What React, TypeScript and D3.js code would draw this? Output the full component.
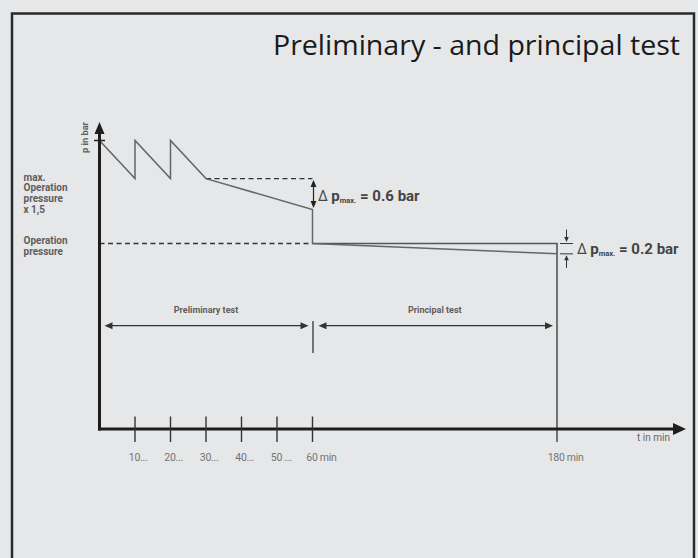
import React from 'react';
import * as d3 from 'd3';

// ---- data ----
const timeMin = [0, 10, 10, 20, 20, 30, 60, 60, 180];
const pressureBar = [5.6, 4.86, 5.6, 4.86, 5.6, 4.86, 4.26, 3.6, 3.4];
const xTicks = [10, 20, 30, 40, 50, 60, 180];
const xTickNums = ['10', '20', '30', '40', '50', '60', '180'];
const xTickSuffix = ['...', '...', '...', '...', ' ...', ' min', ' min'];
const xDomain = [0, 60, 180];
const peakPressure = 5.6;
const holdPressure = 4.86;
const pressureAt60 = 4.26;
const operationPressure = 3.6;
const endPressure = 3.4;
const holdStart = 30;
const prelimEnd = 60;
const principalEnd = 180;
const title = 'Preliminary - and principal test';
const maxLabel = ['max.', 'Operation', 'pressure', 'x 1,5'];
const opLabel = ['Operation', 'pressure'];
const delta1 = '0.6 bar';
const delta2 = '0.2 bar';

const W = 698;
const H = 558;
const BG = '#e6e7e9';
const DARK = '#1e1e1e';
const GREY = '#666';
const TXT = '#5e5e5e';
const FONT = 'Roboto, "DejaVu Sans", sans-serif';

const x = d3.scaleLinear().domain(xDomain).range([99.5, 312.5, 557]);
const y = d3.scaleLinear().domain([0, peakPressure]).range([429, 140.5]);

const line = d3
  .line<number>()
  .x((_, i) => x(timeMin[i]))
  .y((d) => y(d));

function tri(tx: number, ty: number, dir: 'up' | 'down' | 'left' | 'right', len: number, half: number) {
  let pts: number[][] = [];
  if (dir === 'up') pts = [[tx, ty], [tx - half, ty + len], [tx + half, ty + len]];
  if (dir === 'down') pts = [[tx, ty], [tx - half, ty - len], [tx + half, ty - len]];
  if (dir === 'left') pts = [[tx, ty], [tx + len, ty - half], [tx + len, ty + half]];
  if (dir === 'right') pts = [[tx, ty], [tx - len, ty - half], [tx - len, ty + half]];
  return pts.map((p) => p.join(',')).join(' ');
}

function DeltaLabel({ lx, ly, value }: { lx: number; ly: number; value: string }) {
  return (
    <text x={lx} y={ly} fontFamily={FONT} fill="#444" fontWeight={700}>
      <tspan fontSize={14} fontWeight={400}>Δ </tspan>
      <tspan fontSize={15}>p</tspan>
      <tspan fontSize={7.5} dy={2}>max.</tspan>
      <tspan fontSize={15} dy={-2}>{' = ' + value}</tspan>
    </text>
  );
}

export default function App() {
  const x0 = x(0);
  const yAxis = y(0);
  const yTop = y.range()[1] - 18.5;
  const xRight = 686;
  const spanY = 325.7;
  const x60 = x(prelimEnd);
  const x180 = x(principalEnd);

  return (
    <div style={{ position: 'fixed', left: 0, top: 0, width: W, height: H, background: BG }}>
      <svg width={W} height={H} style={{ display: 'block' }}>
        <rect x={0} y={0} width={W} height={H} fill={BG} />
        <rect x={12} y={13.5} width={682} height={620} fill="none" stroke="#2a2a2a" strokeWidth={2.5} />

        <text x={680} y={55} textAnchor="end" fontFamily='"Open Sans", sans-serif' fontWeight={400} fontSize={28} fill="#1a1a1a" textLength={407} lengthAdjust="spacingAndGlyphs">
          {title}
        </text>

        {/* left labels */}
        <g fontFamily={FONT} fontSize={10} fontWeight={700} fill={TXT}>
          {maxLabel.map((t, i) => (
            <text key={t} x={23.5} y={180.5 + i * 10.7}>{t}</text>
          ))}
          {opLabel.map((t, i) => (
            <text key={t + i} x={23.5} y={243.5 + i * 11.5}>{t}</text>
          ))}
        </g>

        {/* dashed reference lines */}
        <g stroke="#333" strokeWidth={1.4} strokeDasharray="5,3.5" fill="none">
          <line x1={x(holdStart)} x2={x60} y1={y(holdPressure)} y2={y(holdPressure)} />
          <line x1={x0} x2={x60} y1={y(operationPressure)} y2={y(operationPressure)} />
        </g>

        {/* reference outline at operation pressure for principal test */}
        <path
          d={`M${x60},${y(operationPressure)}H${x180}V${yAxis + 13}`}
          fill="none"
          stroke="#555"
          strokeWidth={1.6}
        />

        {/* pressure curve */}
        <path d={line(pressureBar) || ''} fill="none" stroke={GREY} strokeWidth={1.5} strokeLinejoin="miter" />

        {/* y axis */}
        <line x1={x0} x2={x0} y1={yTop + 10} y2={yAxis + 1.5} stroke={DARK} strokeWidth={3} />
        <polygon points={tri(x0, yTop, 'up', 12, 5)} fill={DARK} />
        <line x1={x0 - 5.5} x2={x0 + 5.5} y1={y(peakPressure)} y2={y(peakPressure)} stroke={DARK} strokeWidth={1.5} />
        <text
          transform={`translate(${x0 - 11.5},${y(peakPressure) + 12.5}) rotate(-90)`}
          fontFamily={FONT}
          fontSize={9}
          fontWeight={700}
          fill={TXT}
          textLength={31}
          lengthAdjust="spacingAndGlyphs"
        >
          p in bar
        </text>

        {/* x axis */}
        <line x1={x0 - 1.5} x2={xRight - 10} y1={yAxis} y2={yAxis} stroke={DARK} strokeWidth={3} />
        <polygon points={tri(xRight, yAxis, 'right', 13, 6)} fill={DARK} />
        <text x={670} y={441} textAnchor="end" fontFamily={FONT} fontSize={10} fill="#666">t in min</text>
        {xTicks.map((t, i) => (
          <g key={t}>
            {t !== principalEnd && (
              <line x1={x(t)} x2={x(t)} y1={yAxis - 12.5} y2={yAxis + 13} stroke="#333" strokeWidth={1.4} />
            )}
            <text
              x={x(t) - xTickNums[i].length * 3.1}
              y={460.5}
              fontFamily={FONT}
              fontSize={10.5}
              fill="#747474"
              letterSpacing={-0.3}
            >
              {xTickNums[i] + xTickSuffix[i]}
            </text>
          </g>
        ))}

        {/* Δp 0.6 */}
        <line x1={x60 + 1} x2={x60 + 1} y1={y(holdPressure) + 4} y2={y(pressureAt60) - 4} stroke="#222" strokeWidth={1.2} />
        <polygon points={tri(x60 + 1, y(holdPressure) + 1.5, 'up', 7, 3)} fill="#222" />
        <polygon points={tri(x60 + 1, y(pressureAt60) - 1.5, 'down', 7, 3)} fill="#222" />
        <DeltaLabel lx={318} ly={201} value={delta1} />

        {/* Δp 0.2 */}
        <g stroke="#333" strokeWidth={1}>
          <line x1={x180 + 3} x2={x180 + 16} y1={y(operationPressure)} y2={y(operationPressure)} />
          <line x1={x180 + 3} x2={x180 + 16} y1={y(endPressure)} y2={y(endPressure)} />
          <line x1={x180 + 9.5} x2={x180 + 9.5} y1={y(operationPressure) - 14} y2={y(operationPressure) - 4} />
          <line x1={x180 + 9.5} x2={x180 + 9.5} y1={y(endPressure) + 4} y2={y(endPressure) + 14} />
        </g>
        <polygon points={tri(x180 + 9.5, y(operationPressure) - 1.5, 'down', 5, 2.3)} fill="#333" />
        <polygon points={tri(x180 + 9.5, y(endPressure) + 1.5, 'up', 5, 2.3)} fill="#333" />
        <DeltaLabel lx={577} ly={253.5} value={delta2} />

        {/* test spans */}
        <g stroke="#333" strokeWidth={1.3}>
          <line x1={x0 + 8} x2={x60 - 8} y1={spanY} y2={spanY} />
          <line x1={x60 + 12} x2={x180 - 10} y1={spanY} y2={spanY} />
          <line x1={x60 + 0.5} x2={x60 + 0.5} y1={321} y2={353} />
        </g>
        <polygon points={tri(x0 + 5, spanY, 'left', 8, 3.5)} fill="#333" />
        <polygon points={tri(x60 - 4, spanY, 'right', 8, 3.5)} fill="#333" />
        <polygon points={tri(x60 + 6, spanY, 'left', 8, 3.5)} fill="#333" />
        <polygon points={tri(x180 - 4, spanY, 'right', 8, 3.5)} fill="#333" />
        <g fontFamily={FONT} fontSize={9} fontWeight={700} fill={TXT} textAnchor="middle">
          <text x={(x0 + x60) / 2} y={313}>Preliminary test</text>
          <text x={(x60 + x180) / 2} y={313}>Principal test</text>
        </g>
      </svg>
    </div>
  );
}
